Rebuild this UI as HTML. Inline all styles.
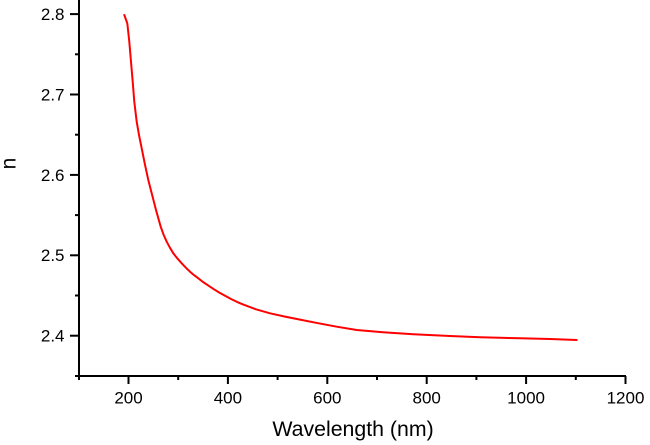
<!DOCTYPE html>
<html>
<head>
<meta charset="utf-8">
<style>
html,body{margin:0;padding:0;background:#fff;}
svg{display:block;}
text{font-family:"Liberation Sans",Arial,sans-serif;fill:#000;}
</style>
</head>
<body>
<svg width="650" height="445" viewBox="0 0 650 445" xmlns="http://www.w3.org/2000/svg">
<rect width="650" height="445" fill="#fff"/>
<line x1="79" y1="0" x2="79" y2="377" stroke="#000" stroke-width="2"/>
<line x1="75" y1="376" x2="626" y2="376" stroke="#000" stroke-width="2"/>
<g stroke="#000" stroke-width="2">
<line x1="70" y1="14.1" x2="79" y2="14.1"/>
<line x1="70" y1="94.5" x2="79" y2="94.5"/>
<line x1="70" y1="174.9" x2="79" y2="174.9"/>
<line x1="70" y1="255.3" x2="79" y2="255.3"/>
<line x1="70" y1="335.7" x2="79" y2="335.7"/>
<line x1="75" y1="54.3" x2="79" y2="54.3"/>
<line x1="75" y1="134.7" x2="79" y2="134.7"/>
<line x1="75" y1="215.1" x2="79" y2="215.1"/>
<line x1="75" y1="295.5" x2="79" y2="295.5"/>
<line x1="128.5" y1="376" x2="128.5" y2="384"/>
<line x1="227.9" y1="376" x2="227.9" y2="384"/>
<line x1="327.3" y1="376" x2="327.3" y2="384"/>
<line x1="426.7" y1="376" x2="426.7" y2="384"/>
<line x1="526.1" y1="376" x2="526.1" y2="384"/>
<line x1="625.5" y1="376" x2="625.5" y2="384"/>
<line x1="79" y1="376" x2="79" y2="380"/>
<line x1="178.2" y1="376" x2="178.2" y2="380"/>
<line x1="277.6" y1="376" x2="277.6" y2="380"/>
<line x1="377" y1="376" x2="377" y2="380"/>
<line x1="476.4" y1="376" x2="476.4" y2="380"/>
<line x1="575.8" y1="376" x2="575.8" y2="380"/>
</g>
<g font-size="17" text-anchor="end">
<text x="64.5" y="20">2.8</text>
<text x="64.5" y="100.4">2.7</text>
<text x="64.5" y="180.8">2.6</text>
<text x="64.5" y="261.2">2.5</text>
<text x="64.5" y="341.6">2.4</text>
</g>
<g font-size="17" text-anchor="middle">
<text x="128.5" y="403.5">200</text>
<text x="227.9" y="403.5">400</text>
<text x="327.3" y="403.5">600</text>
<text x="426.7" y="403.5">800</text>
<text x="526.1" y="403.5">1000</text>
<text x="625.5" y="403.5">1200</text>
</g>
<text x="353" y="436" font-size="21.3" text-anchor="middle">Wavelength (nm)</text>
<text transform="translate(15.5,163.5) rotate(-90)" font-size="21" text-anchor="middle">n</text>
<polyline fill="none" stroke="#ff0000" stroke-width="2" stroke-linejoin="round" stroke-linecap="round"
points="124.3,15 127.3,23.3 129.3,41.7 131,61.7 132.7,81.7 134.3,101.7 136.7,121.7 139,135 141.7,148.3 144.7,163.3 148.3,180 151.7,193.3 156,210 160.7,226.7 163.5,234.5 166.7,241.7 170,247.8 173.3,253.3 177.5,258.6 181.7,263.3 186,267.8 190,271.7 194,275.1 198.3,278.3 203,282 208,285.3 214,289.3 220,293 226,296.3 231,299 237,301.9 243.3,304.6 256,309.3 270,313.3 285,316.6 300,319.6 318,323.2 336.7,326.7 356.7,330 380,332 413.3,334.2 450,336 480,337.3 520,338.3 550,339 576.7,340"/>
</svg>
</body>
</html>
